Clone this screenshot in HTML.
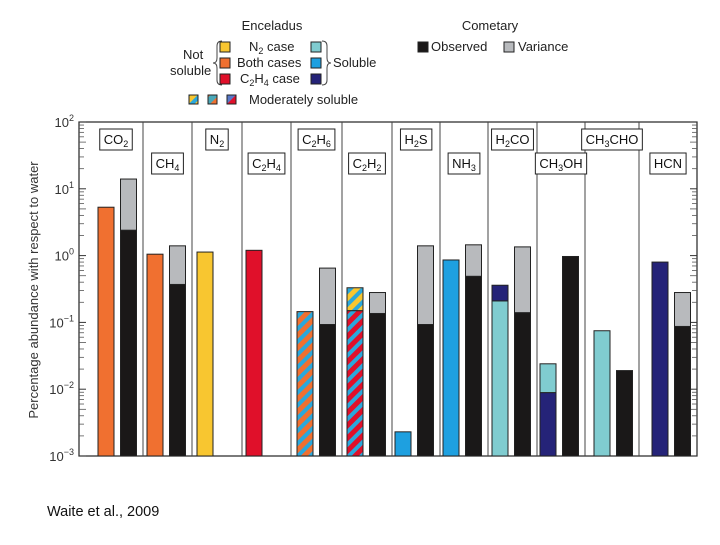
<!DOCTYPE html>
<html><head><meta charset="utf-8">
<style>
body{margin:0;background:#fff;}
svg text{font-family:"Liberation Sans",sans-serif;}
</style></head>
<body>
<svg id="chart" width="720" height="540" viewBox="0 0 720 540" xmlns="http://www.w3.org/2000/svg">
<defs>
<pattern id="pOB" patternUnits="userSpaceOnUse" width="9" height="9" patternTransform="rotate(45)"><rect width="9" height="9" fill="#f07030"/><rect width="4" height="9" fill="#2aa8dc"/></pattern>
<pattern id="pRB" patternUnits="userSpaceOnUse" width="9" height="9" patternTransform="rotate(45)"><rect width="9" height="9" fill="#e0102a"/><rect width="4" height="9" fill="#2aa8dc"/></pattern>
<pattern id="pYB" patternUnits="userSpaceOnUse" width="9" height="9" patternTransform="rotate(45)"><rect width="9" height="9" fill="#f8c630"/><rect width="4" height="9" fill="#2aa8dc"/></pattern>
<pattern id="pOT" patternUnits="userSpaceOnUse" width="12" height="12" patternTransform="rotate(45)"><rect width="12" height="12" fill="#f07030"/><rect width="6" height="12" fill="#4aa8b8"/></pattern>
<pattern id="pRN" patternUnits="userSpaceOnUse" width="12" height="12" patternTransform="rotate(45)"><rect width="12" height="12" fill="#e0102a"/><rect width="6" height="12" fill="#5878c8"/></pattern>
</defs>

<!-- Legend -->
<g font-size="13" fill="#222">
<text x="272" y="30" text-anchor="middle">Enceladus</text>
<text x="490" y="30" text-anchor="middle">Cometary</text>
<text x="183" y="59">Not</text>
<text x="170" y="75">soluble</text>
<path d="M222,41 Q217,41 217,46 L217,58 Q217,63 213,63 Q217,63 217,68 L217,80 Q217,85 222,85" fill="none" stroke="#444" stroke-width="1"/>
<rect x="220" y="42" width="10" height="10" fill="#f8c630" stroke="#222"/>
<rect x="220" y="58" width="10" height="10" fill="#f07030" stroke="#222"/>
<rect x="220" y="74" width="10" height="10" fill="#e0102a" stroke="#222"/>
<text x="249" y="51">N<tspan font-size="9" dy="3">2</tspan><tspan dy="-3"> case</tspan></text>
<text x="237" y="67">Both cases</text>
<text x="240" y="83">C<tspan font-size="9" dy="3">2</tspan><tspan dy="-3">H</tspan><tspan font-size="9" dy="3">4</tspan><tspan dy="-3"> case</tspan></text>
<rect x="311" y="42" width="10" height="10" fill="#80ccd0" stroke="#222"/>
<rect x="311" y="58" width="10" height="10" fill="#1ea0e0" stroke="#222"/>
<rect x="311" y="74" width="10" height="10" fill="#252378" stroke="#222"/>
<path d="M322,41 Q327,41 327,46 L327,58 Q327,63 331,63 Q327,63 327,68 L327,80 Q327,85 322,85" fill="none" stroke="#444" stroke-width="1"/>
<text x="333" y="67">Soluble</text>
<rect x="189" y="95" width="9" height="9" fill="url(#pYB)" stroke="#222"/>
<rect x="208" y="95" width="9" height="9" fill="url(#pOT)" stroke="#222"/>
<rect x="227" y="95" width="9" height="9" fill="url(#pRN)" stroke="#222"/>
<text x="249" y="104">Moderately soluble</text>
<rect x="418" y="42" width="10" height="10" fill="#1a1818" stroke="#222"/>
<text x="431" y="51">Observed</text>
<rect x="504" y="42" width="10" height="10" fill="#b8babd" stroke="#222"/>
<text x="518" y="51">Variance</text>
</g>

<text transform="translate(38,290) rotate(-90)" text-anchor="middle" font-size="13" fill="#333">Percentage abundance with respect to water</text>
<text x="47" y="516" font-size="14.5" fill="#111">Waite et al., 2009</text>
<g id="plot"></g>
</svg>
<script>
const NS = "http://www.w3.org/2000/svg";
// data
const species = ["CO2","CH4","N2","C2H4","C2H6","C2H2","H2S","NH3","H2CO","CH3OH","CH3CHO","HCN"];
const labelHtml = ["CO|2","CH|4","N|2","C|2|H|4","C|2|H|6","C|2|H|2","H|2|S","NH|3","H|2|CO","CH|3|OH","CH|3|CHO","HCN"];
const enceladusValue = [5.3, 1.05, 1.13, 1.2, 0.145, 0.15, 0.0023, 0.86, 0.21, 0.0089, 0.075, 0.8];
const enceladusUpper = [null, null, null, null, null, 0.33, null, null, 0.36, 0.024, null, null];
const enceladusFill = ["#f07030","#f07030","#f8c630","#e0102a","url(#pOB)","url(#pRB)","#1ea0e0","#1ea0e0","#80ccd0","#252378","#80ccd0","#252378"];
const enceladusUpperFill = [null,null,null,null,null,"url(#pYB)",null,null,"#252378","#80ccd0",null,null];
const cometObserved = [2.4, 0.37, null, null, 0.093, 0.136, 0.093, 0.49, 0.14, 0.97, 0.019, 0.087];
const cometVariance = [14, 1.4, null, null, 0.65, 0.28, 1.4, 1.45, 1.35, null, null, 0.28];
const labelRow = [0,1,0,1,0,1,0,1,0,1,0,1];
const yTicks = [-3,-2,-1,0,1,2];

// layout
const X0 = 79, X1 = 697, YTOP = 122, YBOT = 456;
const panelEdges = [79,143,192,242,291,342,392,440,488,537,585,639,697];
const y = v => YBOT - (Math.log10(v) + 3) / 5 * (YBOT - YTOP);
const plot = document.getElementById('plot');
function mk(tag, attrs, parent){const e=document.createElementNS(NS,tag);for(const k in attrs)e.setAttribute(k,attrs[k]);(parent||plot).appendChild(e);return e;}

const frame = mk('rect',{x:X0,y:YTOP,width:X1-X0,height:YBOT-YTOP,fill:'none',stroke:'#222','stroke-width':1.2});


for(let i=1;i<panelEdges.length-1;i++){
  const l = mk('line',{x1:panelEdges[i],x2:panelEdges[i],y1:YTOP,y2:YBOT,stroke:'#444','stroke-width':1});
  
  
}
yTicks.forEach(t=>{
  const yy = y(Math.pow(10,t));
  [X0,X1].forEach((xx,side)=>{
    const d = side? -1:1;
    const tk = mk('line',{x1:xx,x2:xx+d*7,y1:yy,y2:yy,stroke:'#333'});
    
    
    if(t<2) for(let m=2;m<10;m++){
      const ym = y(m*Math.pow(10,t));
      const mt = mk('line',{x1:xx,x2:xx+d*(m==5?7:5),y1:ym,y2:ym,stroke:'#555','stroke-width':0.8});
      
      
    }
  });
  const tx = mk('text',{x:74,y:yy+5,'text-anchor':'end','font-size':13,fill:'#333'});
  
  
  const b = document.createElementNS(NS,'tspan'); b.textContent='10'; tx.appendChild(b);
  const s = document.createElementNS(NS,'tspan'); s.setAttribute('dy','-6'); s.setAttribute('font-size','9'); s.textContent = t<0 ? '\u2212'+(-t) : String(t); tx.appendChild(s);
});

function bar(x, v0, v1, fill, name){
  const r = mk('rect',{x:x,y:y(v1),width:16,height:y(v0)-y(v1),fill:fill,stroke:'#222','stroke-width':1});
  
  
}
species.forEach((sp,i)=>{
  const pl = panelEdges[i], pr = panelEdges[i+1], w = pr-pl;
  const bx1 = pr - 45, bx2 = pr - 22.5;
  if(enceladusValue[i]!=null){
    bar(bx1, 0.001, enceladusValue[i], enceladusFill[i], 'bar-enceladus-'+sp.toLowerCase());
    if(enceladusUpper[i]!=null) bar(bx1, enceladusValue[i], enceladusUpper[i], enceladusUpperFill[i], 'bar-enceladus-upper-'+sp.toLowerCase());
  }
  if(cometObserved[i]!=null){
    bar(bx2, 0.001, cometObserved[i], '#1a1818', 'bar-observed-'+sp.toLowerCase());
    if(cometVariance[i]!=null) bar(bx2, cometObserved[i], cometVariance[i], '#b8babd', 'bar-variance-'+sp.toLowerCase());
  }
  const parts = labelHtml[i].split('|');
  const ly = labelRow[i] ? 168 : 144;
  const cx = i==0 ? 116 : pl + w/2;
  const g = mk('g',{});
  
  
  const t = mk('text',{x:cx,y:ly,'text-anchor':'middle','font-size':13,fill:'#111'},g);
  parts.forEach((p,k)=>{const ts=document.createElementNS(NS,'tspan');
    if(k%2==1){ts.setAttribute('font-size','9');ts.setAttribute('dy','3');}
    else if(k>0){ts.setAttribute('dy','-3');}
    ts.textContent=p;t.appendChild(ts);});
  const bb = t.getBBox();
  const box = mk('rect',{x:bb.x-4,y:ly-15,width:bb.width+8,height:21,fill:'#fff',stroke:'#222'},g);
  g.insertBefore(box,t);
});
</script>
</body></html>
